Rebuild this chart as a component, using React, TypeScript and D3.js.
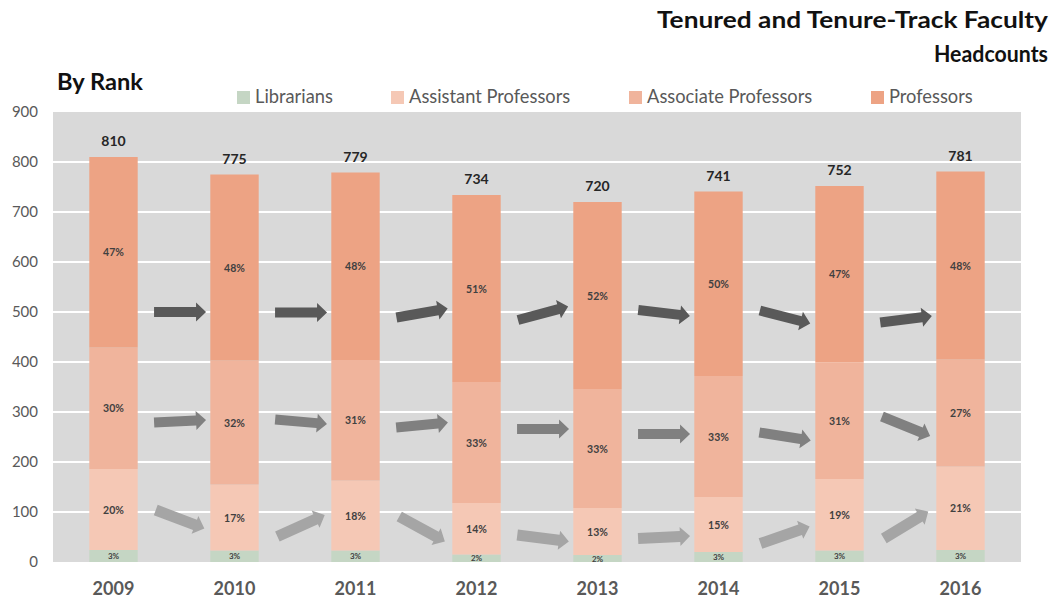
import React from "react";
import * as d3 from "d3";

const years = ["2009", "2010", "2011", "2012", "2013", "2014", "2015", "2016"];
const librarians = [24, 23, 23, 15, 14, 20, 23, 24];
const assistantProfessors = [162, 132, 140, 103, 94, 110, 143, 167];
const associateProfessors = [243, 248, 241, 242, 238, 242, 233, 214];
const professors = [381, 372, 375, 374, 374, 369, 353, 376];
const yTicks = [0, 100, 200, 300, 400, 500, 600, 700, 800, 900];

const seriesNames = ["Librarians", "Assistant Professors", "Associate Professors", "Professors"];
const seriesKeys = ["lib", "asst", "assoc", "prof"];
const seriesColors = ["#c5d6c4", "#f5c8b5", "#f0b49c", "#eda384"];

// Trend arrows between consecutive years: [tail value, tip value] in headcount units
const arrowsProfessors: [number, number][] = [
  [500, 500], [499, 499], [489, 507], [484, 511], [504, 492], [503, 477], [479, 492],
];
const arrowsAssociate: [number, number][] = [
  [279, 284], [285, 276], [269, 279], [266, 266], [256, 256], [259, 243], [291, 252],
];
const arrowsAssistant: [number, number][] = [
  [104, 67], [51, 94], [91, 41], [54, 41], [47, 52], [37, 71], [47, 101],
];
const arrowRows = [
  { data: arrowsProfessors, color: "#595959" },
  { data: arrowsAssociate, color: "#808080" },
  { data: arrowsAssistant, color: "#a5a5a5" },
];

const legendX = [237, 391, 629, 871];

export default function App() {
  const W = 1055, H = 600;
  const left = 53, right = 1021, top = 112, bottom = 562;
  const x = d3.scaleBand<string>().domain(years).range([left, right]).paddingInner(0.6).paddingOuter(0.3);
  const y = d3.scaleLinear().domain([0, 900]).range([bottom, top]);
  const rows = years.map((yr, i) => ({
    year: yr,
    lib: librarians[i],
    asst: assistantProfessors[i],
    assoc: associateProfessors[i],
    prof: professors[i],
  }));
  const totals = rows.map((r) => r.lib + r.asst + r.assoc + r.prof);
  const stacked = d3.stack<any>().keys(seriesKeys)(rows);
  const bw = x.bandwidth();
  const step = x.step();
  const font = "Lato, 'Open Sans', sans-serif";

  const arrowPath = (L: number, shaft: number, headW: number, headL: number) => {
    const h = L / 2;
    return `M${-h},${-shaft / 2} L${h - headL},${-shaft / 2} L${h - headL},${-headW / 2} L${h},0 L${h - headL},${headW / 2} L${h - headL},${shaft / 2} L${-h},${shaft / 2} Z`;
  };

  return (
    <svg width={W} height={H} style={{ position: "absolute", left: 0, top: 0, background: "#fff" }}>
      {/* titles */}
      <text x={1048} y={28} textAnchor="end" fontFamily={font} fontWeight={700} fontSize={22} fill="#111" textLength={391} lengthAdjust="spacingAndGlyphs">
        Tenured and Tenure-Track Faculty
      </text>
      <text x={1048} y={62} textAnchor="end" fontFamily={font} fontWeight={700} fontSize={22} fill="#111" textLength={114} lengthAdjust="spacingAndGlyphs">
        Headcounts
      </text>
      <text x={57} y={90} fontFamily={font} fontWeight={700} fontSize={22} fill="#111" textLength={86} lengthAdjust="spacingAndGlyphs">
        By Rank
      </text>

      {/* legend */}
      {seriesNames.map((n, i) => (
        <g key={n}>
          <rect x={legendX[i]} y={91} width={13} height={13} fill={seriesColors[i]} />
          <text x={legendX[i] + 18} y={103} fontFamily={font} fontSize={18.3} fill="#595959">
            {n}
          </text>
        </g>
      ))}

      {/* plot background */}
      <rect x={left} y={top} width={right - left} height={bottom - top} fill="#d9d9d9" />
      {yTicks.filter((t) => t > 0 && t < 900).map((t) => (
        <line key={t} x1={left} x2={right} y1={y(t)} y2={y(t)} stroke="#ffffff" strokeWidth={2} />
      ))}

      {/* y axis labels */}
      {yTicks.map((t) => (
        <text key={t} x={38} y={y(t) + 5} textAnchor="end" fontFamily={font} fontSize={15} fill="#595959">
          {t}
        </text>
      ))}

      {/* bars */}
      {stacked.map((s, si) => (
        <g key={s.key} fill={seriesColors[si]}>
          {s.map((d, i) => (
            <rect key={i} x={x(years[i])!} y={y(d[1])} width={bw} height={y(d[0]) - y(d[1])} />
          ))}
        </g>
      ))}

      {/* percentage labels */}
      {stacked.map((s, si) => (
        <g key={"l" + s.key}>
          {s.map((d, i) => {
            const v = d[1] - d[0];
            const pct = Math.round((v / totals[i]) * 100);
            return (
              <text
                key={i}
                x={x(years[i])! + bw / 2}
                y={y((d[0] + d[1]) / 2) + (si === 0 ? 3 : 4)}
                textAnchor="middle"
                fontFamily={font}
                fontWeight={700}
                fontSize={si === 0 ? 8 : 10.5}
                fill="#404040"
              >
                {pct}%
              </text>
            );
          })}
        </g>
      ))}

      {/* totals */}
      {totals.map((t, i) => (
        <text key={i} x={x(years[i])! + bw / 2} y={y(t) - 11} textAnchor="middle" fontFamily={font} fontWeight={700} fontSize={14} fill="#262626">
          {t}
        </text>
      ))}

      {/* x axis labels */}
      {years.map((yr) => (
        <text key={yr} x={x(yr)! + bw / 2} y={595} textAnchor="middle" fontFamily={font} fontWeight={700} fontSize={18} fill="#595959">
          {yr}
        </text>
      ))}

      {/* trend arrows */}
      {arrowRows.map((row, ri) => (
        <g key={ri} fill={row.color}>
          {row.data.map(([a, b], i) => {
            const L = 52;
            const ty = y(a), hy = y(b);
            const dy = hy - ty;
            const dx = Math.sqrt(Math.max(L * L - dy * dy, 1));
            const ang = (Math.atan2(dy, dx) * 180) / Math.PI;
            const cx = x(years[i])! + bw / 2 + 0.55 * step;
            const cy = (ty + hy) / 2;
            return (
              <path key={i} d={arrowPath(L, ri === 2 ? 11 : 10, 19, 10)} transform={`translate(${cx},${cy}) rotate(${ang})`} />
            );
          })}
        </g>
      ))}
    </svg>
  );
}
